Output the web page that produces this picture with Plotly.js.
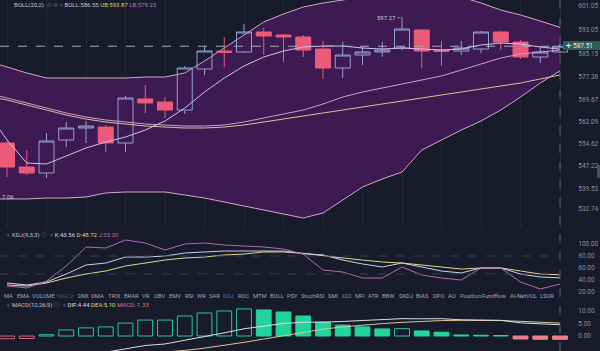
<!DOCTYPE html>
<html><head><meta charset="utf-8">
<script src="https://cdn.plot.ly/plotly-3.0.1.min.js"></script>
<style>html,body{margin:0;padding:0;background:#171b2a;}#c{width:600px;height:351px;}</style>
</head><body><div id="c"></div>
<script>
// ---------- DATA ----------
const bars = [0,1,2,3,4,5,6,7,8,9,10,11,12,13,14,15,16,17,18,19,20,21,22,23,24,25,26,27,28];
const open  = [554.95,546.87,544.86,555.96,560.00,560.33,554.95,569.76,568.75,566.05,579.85,585.91,585.57,592.30,591.29,590.62,586.58,580.19,584.56,585.57,586.92,592.97,586.24,585.91,586.58,592.30,588.94,583.89,585.57];
const high  = [555.62,552.59,558.32,562.02,562.35,561.01,570.77,574.47,570.43,580.86,587.25,590.62,594.99,593.65,591.60,591.29,589.27,588.94,587.25,588.94,597.27,593.31,589.27,589.27,592.64,592.64,589.61,587.25,588.26];
const low   = [543.51,544.18,543.17,553.60,554.95,551.92,551.92,565.05,563.36,564.71,577.83,580.52,585.24,584.56,582.21,583.89,576.49,576.82,581.20,583.89,586.24,580.19,580.86,584.56,585.24,586.24,583.22,581.87,585.24];
const close = [546.87,544.86,555.62,560.00,560.67,554.95,570.09,568.41,566.05,580.19,585.91,585.40,592.30,590.96,590.62,586.24,580.19,584.56,585.57,586.24,593.31,585.91,585.74,586.92,592.30,588.94,583.89,585.57,587.51];

// band lines (first point is the bar just left of the view)
const bandBars = [-1,0,1,2,3,4,5,6,7,8,9,10,11,12,13,14,15,16,17,18,19,20,21,22,23,24,25,26,27,28];
const bollUB  = [582.54,580.52,578.51,576.82,576.82,576.82,576.82,576.82,577.16,577.16,578.51,582.54,586.92,591.29,595.67,598.36,600.71,602.06,603.07,604.08,604.75,605.09,605.09,604.75,604.08,602.06,599.70,598.02,596.00,593.87];
const bollLB  = [536.11,536.11,536.11,536.44,536.44,536.78,538.13,538.46,538.46,538.46,537.45,536.44,535.10,533.75,532.40,531.06,529.71,531.40,535.77,540.14,542.84,545.19,552.59,555.96,559.32,562.35,566.05,570.43,575.14,579.23];
const bollMid = [565.38,555.96,548.22,547.88,550.58,553.27,555.29,556.97,559.32,562.35,566.73,572.11,576.82,580.86,583.89,585.91,587.25,587.59,587.59,586.92,586.58,586.92,586.58,586.24,586.58,587.93,588.60,588.26,587.25,586.55];
const maLineA = [571.78,570.09,568.41,566.73,565.05,563.70,562.69,562.02,561.34,561.01,560.67,560.67,561.01,562.02,563.36,564.71,566.05,568.07,570.43,572.11,573.46,574.80,576.15,577.50,579.51,581.53,583.55,584.90,585.57,586.24];
const maLineB = [570.77,569.42,567.74,566.05,564.37,563.03,562.02,561.34,560.67,560.33,560.00,560.00,560.33,561.01,562.02,563.03,564.04,565.05,566.05,567.06,568.07,569.08,570.09,571.10,572.11,573.12,574.13,575.14,576.49,577.83];

const kdjK = [35,31.7,36.7,50,65,68.3,78.3,78.3,80,85,86.7,88.3,88.3,88.3,88.3,84,81.7,73.3,66.7,61.7,68.3,61.7,55,51.7,60,60,50,45,43.56];
const kdjD = [31.7,30,35,43.3,50,55,63.3,68.3,73.3,76.7,78.3,81.7,83.3,86.7,86.7,84.5,80,76.7,73.3,70,68.3,65,61.7,58.3,60,60,55,50,48.72];
const kdjJ = [30,26.7,38.3,63.3,95,93.3,106.7,101.7,90,100,101.7,98.3,96.7,95,91.7,83,56.7,53.3,43.3,43.3,61.7,48.3,43.3,40,60,60,36.7,25,33.30];

const macdHist = [-1.1,-1.0,0.5,2.4,3.2,3.6,5.1,6.3,6.3,7.9,9.1,9.9,10.7,10.3,9.5,7.9,5.5,4.3,3.6,2.8,2.9,2.0,1.5,0.4,0.3,0.2,-1.2,-1.3,-1.33];
const macdDIF  = [-10.05,-10.1,-9.35,-8.1,-7.2,-6.4,-5.05,-3.75,-3.15,-1.75,-0.25,1.25,2.85,3.95,4.95,5.45,5.45,5.75,6.1,6.3,6.85,6.8,6.85,6.4,6.35,6.2,5.2,4.8,4.44];
const macdDEA  = [-9.5,-9.6,-9.6,-9.3,-8.8,-8.2,-7.6,-6.9,-6.3,-5.7,-4.8,-3.7,-2.5,-1.2,0.2,1.5,2.7,3.6,4.3,4.9,5.4,5.8,6.1,6.2,6.2,6.1,5.8,5.45,5.10];

const priceTicks = [601.05,593.05,585.15,577.36,569.67,562.09,554.62,547.22,539.53,532.74];
const kdjTicks = [100,80,60,40,20];
const macdTicks = [10,5,0,-5];
const periodHigh = 597.27;
const periodLowLabel = '7.06';
const indicatorNames = ['MA','EMA','VOLUME','MACD','DMI','DMA','TRIX','BRAR','VR','OBV','EMV','RSI','WR','SAR','KDJ','ROC','MTM','BOLL','PSY','StochRSI','SMI','CCI','MFI','ATR','BBW','SKDJ','BIAS','DPO','AO','Position','Fundflow','AI-NetVOL','LSUR'];

// ---------- LAYOUT HELPERS ----------
const PW = 573, PH = 351;
const px = v => v / PW;
const py = v => 1 - v / PH;
const BG = '#171b2a';
const AX = '#8a8fa0';
const FONT = 'Roboto, "DejaVu Sans", sans-serif';
const last = a => a[a.length - 1];

const traces = [];
traces.push({x: bandBars, y: bollLB, xaxis:'x', yaxis:'y', type:'scatter', mode:'lines', line:{color:'#d7a6c8', width:1}, hoverinfo:'skip'});
traces.push({x: bandBars, y: bollUB, xaxis:'x', yaxis:'y', type:'scatter', mode:'lines', line:{color:'#d7a6c8', width:1}, fill:'tonexty', fillcolor:'#3d1a51', hoverinfo:'skip'});
traces.push({x: bars, open, high, low, close, type:'candlestick', xaxis:'x', yaxis:'y4',
  increasing:{line:{color:'#959fd4', width:1}, fillcolor:'rgba(0,0,0,0)'},
  decreasing:{line:{color:'#ec5a7a', width:1}, fillcolor:'#ec5a7a'}, whiskerwidth:0, hoverinfo:'skip'});
traces.push({x: bandBars, y: maLineB, xaxis:'x', yaxis:'y4', type:'scatter', mode:'lines', line:{color:'#d6c49a', width:1}});
traces.push({x: bandBars, y: maLineA, xaxis:'x', yaxis:'y4', type:'scatter', mode:'lines', line:{color:'#cda0d6', width:1}});
traces.push({x: bandBars, y: bollMid, xaxis:'x', yaxis:'y4', type:'scatter', mode:'lines', line:{color:'#cfc2ee', width:1}});
traces.push({x: bars, y: kdjD, xaxis:'x2', yaxis:'y2', type:'scatter', mode:'lines', line:{color:'#e3d58a', width:1}});
traces.push({x: bars, y: kdjK, xaxis:'x2', yaxis:'y2', type:'scatter', mode:'lines', line:{color:'#c7d0ee', width:1}});
traces.push({x: bars, y: kdjJ, xaxis:'x2', yaxis:'y2', type:'scatter', mode:'lines', line:{color:'#b06cb8', width:1}});
const histFill = [], histLine = [];
macdHist.forEach((v, i) => {
  const rising = i === 0 || v >= macdHist[i - 1];
  const col = v >= 0 ? (rising ? '#2cc79b' : '#22d49c') : (rising ? '#d9677a' : '#ef7f88');
  histLine.push(col);
  histFill.push(rising ? 'rgba(0,0,0,0)' : col);
});
traces.push({x: bars, y: macdHist, xaxis:'x3', yaxis:'y3', type:'bar', width:0.75, marker:{color:histFill, line:{color:histLine, width:1}}});
traces.push({x: bars, y: macdDEA, xaxis:'x3', yaxis:'y3', type:'scatter', mode:'lines', line:{color:'#d8c98c', width:1}});
traces.push({x: bars, y: macdDIF, xaxis:'x3', yaxis:'y3', type:'scatter', mode:'lines', line:{color:'#d9dde8', width:1}});

const xr = [-7/19.75, -7/19.75 + PW/19.75];
const tickFont = {family: FONT, size: 6.5, color: AX};
const yCommon = {side:'right', ticks:'outside', ticklen:3, tickcolor:'rgba(0,0,0,0)', tickfont:tickFont, zeroline:false, showline:false, fixedrange:true};

const annotations = [];
const ann = (x, y, text, opt={}) => annotations.push(Object.assign({xref:'paper', yref:'paper', x, y, text, showarrow:false, xanchor:'left', yanchor:'middle', font:{family:FONT, size:6, color:'#c3c6d2'}}, opt));

ann(px(12), py(5), `<span style="color:#c3c6d2">BOLL(20,2)</span>\u00a0\u00a0<span style="color:#5f6477">⊙\u00a0⊚\u00a0×</span>\u00a0<span style="color:#c3c6d2">BOLL:${last(bollMid).toFixed(2)}</span>\u00a0<span style="color:#d4da6c">UB:${last(bollUB).toFixed(2)}</span>\u00a0<span style="color:#b07cc4">LB:${last(bollLB).toFixed(2)}</span>`);
ann(px(4), py(235), `<span style="color:#5f6477">∨</span>\u00a0<span style="color:#c3c6d2">KDJ(9,3,3)</span>\u00a0<span style="color:#5f6477">ⓘ\u00a0\u00a0×</span>\u00a0<span style="color:#d9dde8">K:${last(kdjK).toFixed(2)}</span>\u00a0<span style="color:#e3d58a">D:${last(kdjD).toFixed(2)}</span>\u00a0<span style="color:#b06cb8">J:${last(kdjJ).toFixed(2)}</span>`);
ann(px(4), py(305), `<span style="color:#5f6477">∨</span>\u00a0<span style="color:#c3c6d2">MACD(12,26,9)</span>\u00a0<span style="color:#5f6477">ⓘ\u00a0\u00a0×</span>\u00a0<span style="color:#d9dde8">DIF:${last(macdDIF).toFixed(2)}</span>\u00a0<span style="color:#e3d58a">DEA:${last(macdDEA).toFixed(2)}</span>\u00a0<span style="color:#e0707e">MACD:${last(macdHist).toFixed(2)}</span>`);

const wordX = [8.5,22.5,43,65.5,83,97.5,114,131.5,146,159.5,175,189.5,201,214,228.5,243.5,259.5,276.5,292.5,312.5,333.5,347,359.5,373.5,388.5,405.5,422.5,438,451.5,470,493.5,523,546.5];
indicatorNames.forEach((w, i) => {
  const c = w === 'MACD' ? '#4b5062' : (w === 'KDJ' ? '#3f72dc' : '#a3a8b6');
  ann(px(wordX[i]), py(296), w, {xanchor:'center', font:{family:FONT, size:5.8, color:c}});
});

annotations.push({xref:'x', yref:'y4', x:20, y:periodHigh, text:periodHigh.toFixed(2)+' ─', showarrow:false, xanchor:'right', yanchor:'middle', xshift:1, font:{family:FONT, size:6, color:'#c3c6d2'}});
ann(0, py(196), periodLowLabel, {font:{family:FONT, size:6, color:'#c3c6d2'}});
ann(px(583), py(45.5), close[28].toFixed(2), {xanchor:'center', font:{family:FONT, size:6.5, color:'#e4efe9'}});
ann(px(568), py(45.5), '+', {xanchor:'center', font:{family:FONT, size:9, color:'#ffffff'}});

const shapes = [
  {type:'line', xref:'paper', yref:'y4', x0:0, x1:px(560), y0:close[28], y1:close[28], line:{color:'#a6abbd', width:1, dash:'dash'}},
  {type:'line', xref:'x', yref:'paper', x0:28, x1:28, y0:0, y1:1, line:{color:'#5b6072', width:1, dash:'dash'}},
  {type:'line', xref:'paper', yref:'y2', x0:0, x1:px(560), y0:80, y1:80, line:{color:'#3a3f52', width:1, dash:'dash'}},
  {type:'line', xref:'paper', yref:'y2', x0:0, x1:px(560), y0:50, y1:50, line:{color:'#3a3f52', width:1, dash:'dash'}},
  {type:'rect', xref:'paper', yref:'paper', x0:px(563), x1:px(600), y0:py(50), y1:py(41), fillcolor:'#2f5c54', line:{width:0}},
  {type:'rect', xref:'paper', yref:'paper', x0:px(597), x1:px(600), y0:py(178), y1:py(165), fillcolor:'#4a4f60', line:{width:0}}
];

const mainRange = [526.35, 603.07];
const layout = {
  width:600, height:351, margin:{l:0, r:27, t:0, b:0},
  paper_bgcolor:BG, plot_bgcolor:BG, showlegend:false,
  boxgap:0.24, boxgroupgap:0, bargap:0,
  font:{family:FONT, color:AX},
  xaxis:{anchor:'y', range:xr, showticklabels:false, showgrid:true, gridcolor:'#222739', dtick:2, tick0:0, zeroline:false, rangeslider:{visible:false}, fixedrange:true},
  xaxis2:{anchor:'y2', range:xr, visible:false, matches:'x'},
  xaxis3:{anchor:'y3', range:xr, visible:false, matches:'x'},
  yaxis:Object.assign({}, yCommon, {domain:[py(228), 1], range:mainRange, tickvals:priceTicks, ticktext:priceTicks.map(v=>v.toFixed(2)), showgrid:false}),
  yaxis4:{overlaying:'y', side:'right', range:mainRange, visible:false, fixedrange:true},
  yaxis2:Object.assign({}, yCommon, {domain:[py(300), py(232)], range:[6.667, 120], tickvals:kdjTicks, ticktext:kdjTicks.map(v=>v.toFixed(2)), showgrid:false}),
  yaxis3:Object.assign({}, yCommon, {domain:[0, py(300)], range:[-5.93, 14.23], tickvals:macdTicks, ticktext:macdTicks.map(v=>v.toFixed(2)), showgrid:false}),
  annotations, shapes
};
Plotly.newPlot('c', traces, layout, {staticPlot:true, displayModeBar:false});
</script></body></html>
